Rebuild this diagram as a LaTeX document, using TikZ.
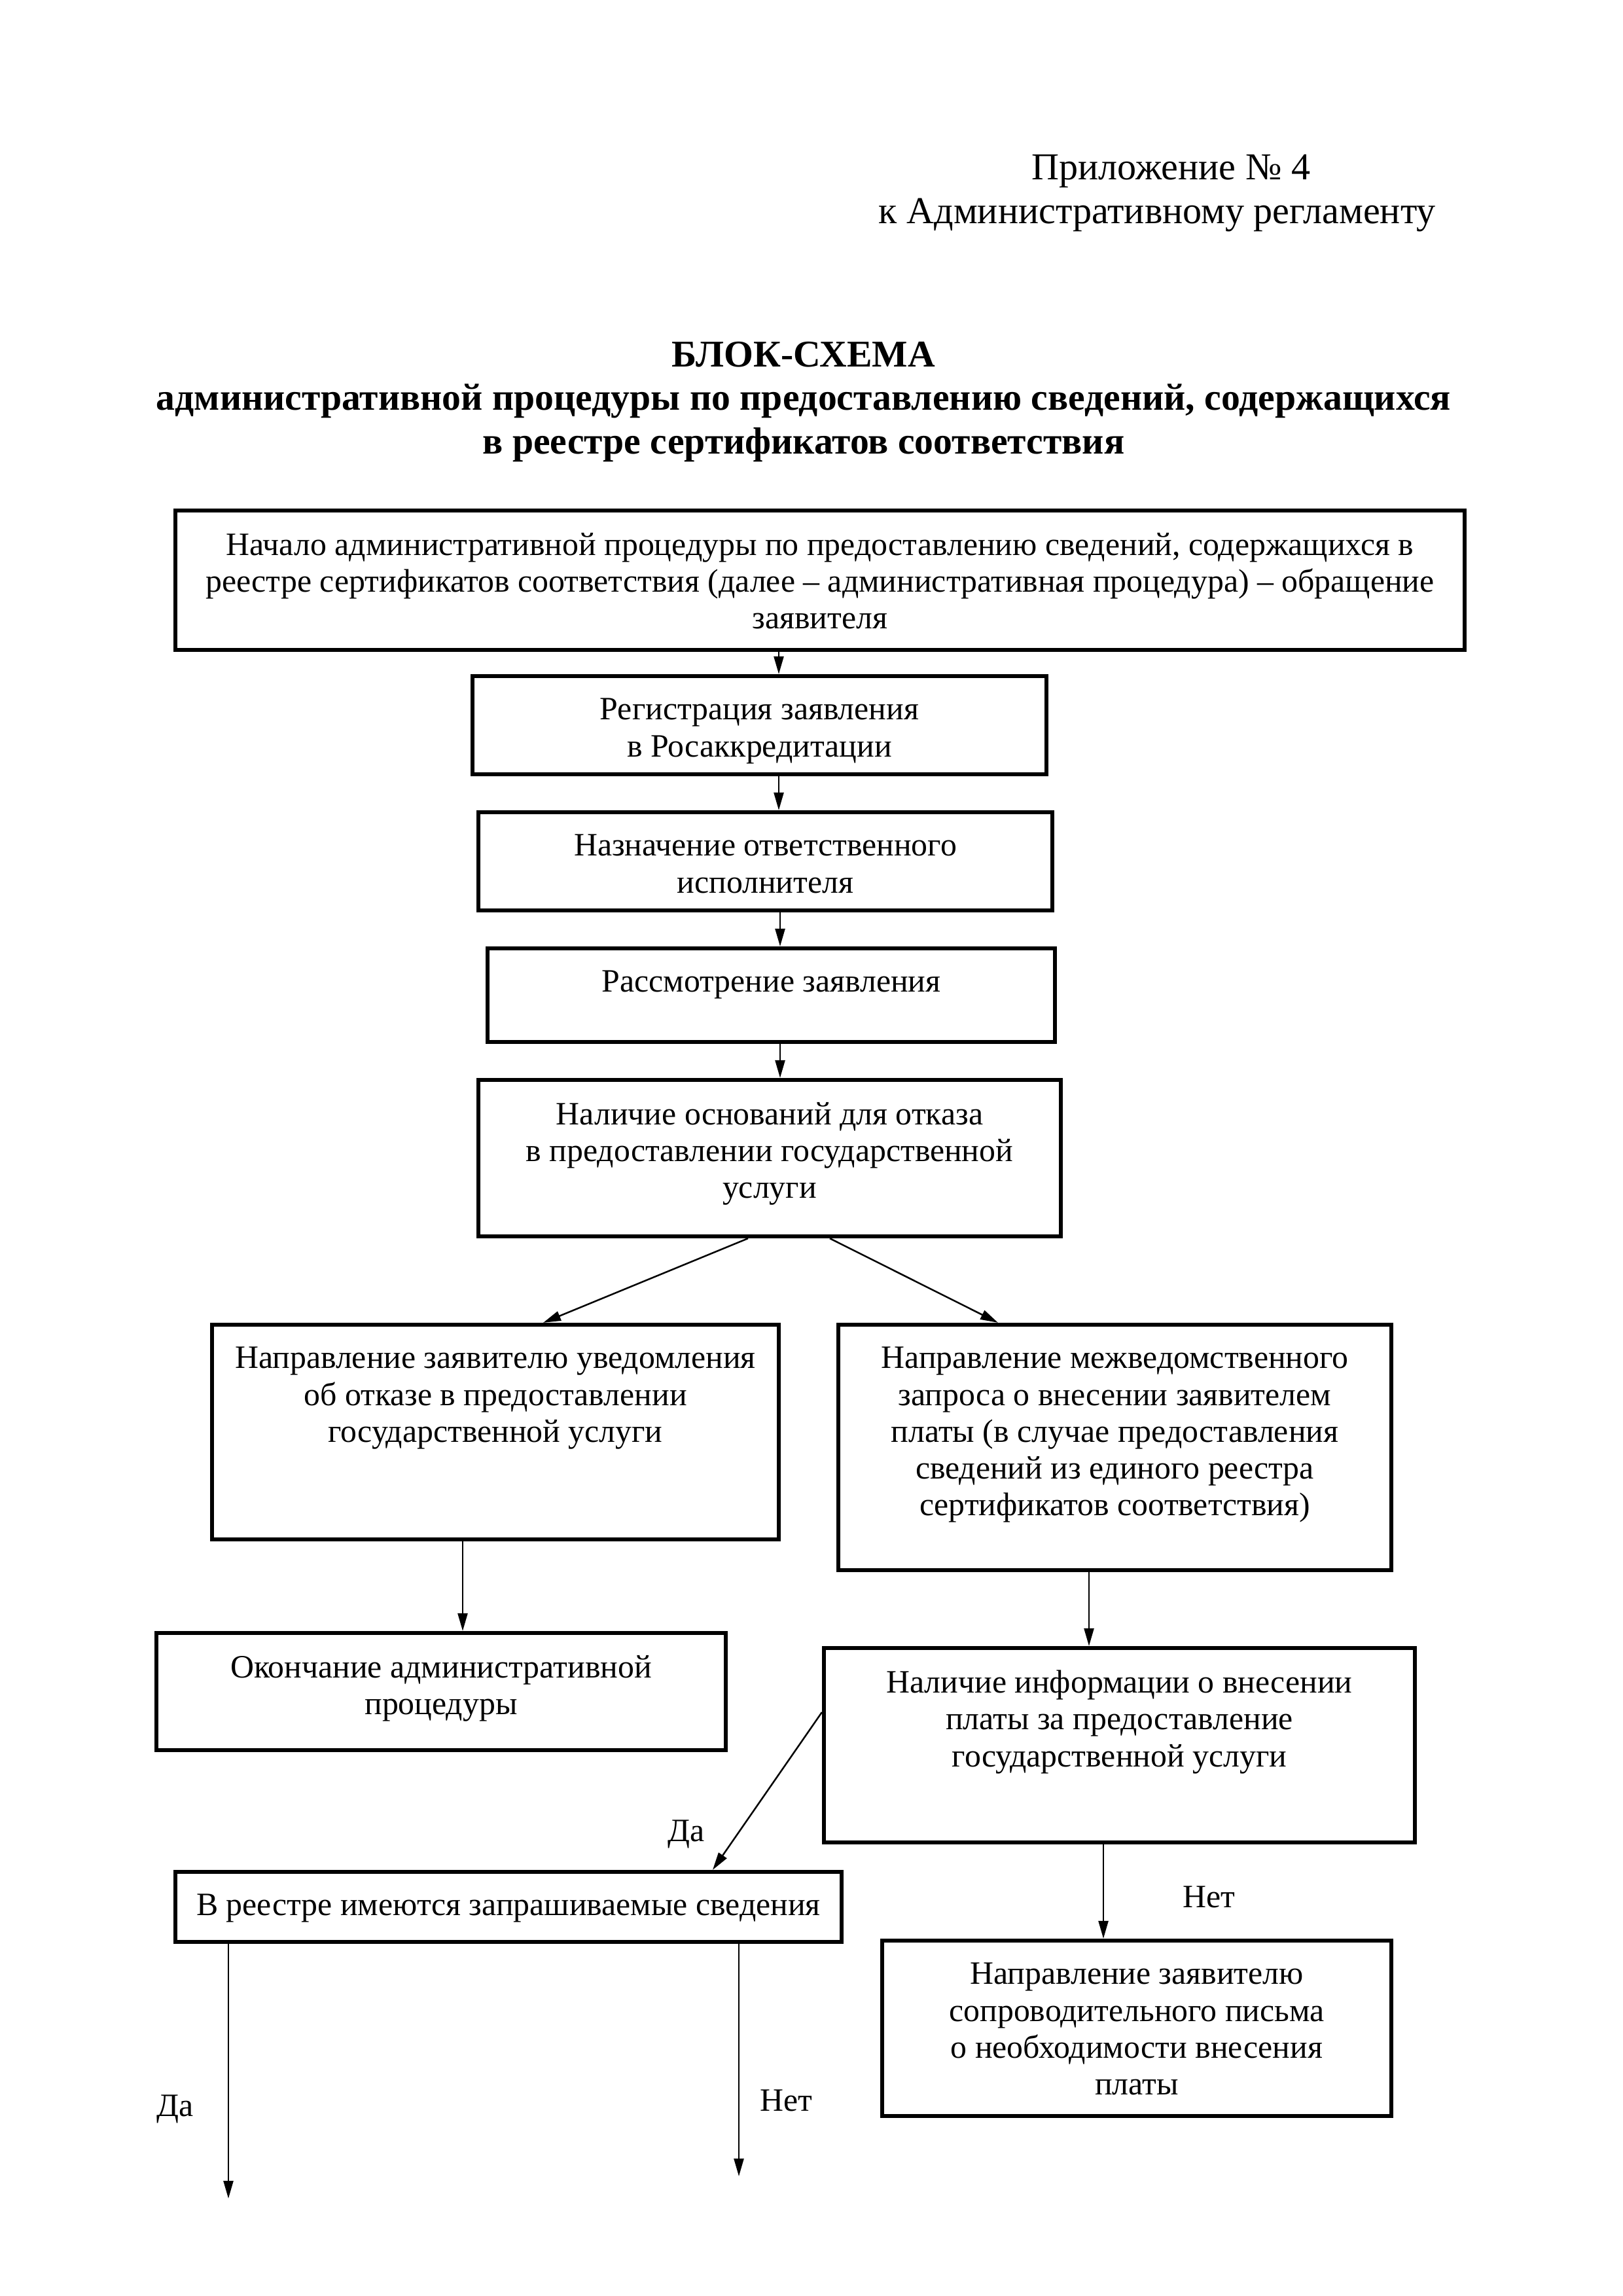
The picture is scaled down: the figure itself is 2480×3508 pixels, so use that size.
\documentclass[tikz,border=0pt]{standalone}
\usepackage{fontspec}
\setmainfont{Liberation Serif}
\usetikzlibrary{arrows.meta,fit}
\tikzset{
  box/.style={draw, line width=1.5pt, inner sep=0pt},
  txt/.style={anchor=north, align=center, inner sep=0pt, font=\fontsize{12}{13.5}\selectfont},
  lbl/.style={inner sep=0pt, font=\fontsize{12}{13.5}\selectfont},
  head/.style={inner sep=0pt, font=\fontsize{14}{16}\selectfont},
  ttl/.style={inner sep=0pt, align=center, font=\fontsize{13.9}{16.1}\selectfont\bfseries},
  arr/.style={line width=0.6pt, -{Triangle[length=6.5pt,width=3.6pt]}}
}
\begin{document}
\begin{tikzpicture}[x=0.08467mm, y=-0.08467mm]
\useasboundingbox (0,0) rectangle (2480,3508);
% header
\node[head, anchor=west] (h1) at (1576,262) {Приложение № 4};
\node[head, anchor=west] (h2) at (1342,329) {к Административному регламенту};
\node[ttl] (title) at (1228,614) {БЛОК-СХЕМА\\административной процедуры по предоставлению сведений, содержащихся\\в реестре сертификатов соответствия};
% boxes
\node[box, fit={(268,780)(2238,993)}] (b1) {};
\node[box, fit={(722,1033)(1599,1183)}] (b2) {};
\node[box, fit={(731,1241)(1608,1391)}] (b3) {};
\node[box, fit={(745,1449)(1612,1592)}] (b4) {};
\node[box, fit={(731,1650)(1621,1889)}] (b5) {};
\node[box, fit={(324,2024)(1190,2352)}] (b6) {};
\node[box, fit={(1281,2024)(2126,2399)}] (b7) {};
\node[box, fit={(239,2495)(1109,2674)}] (b8) {};
\node[box, fit={(1259,2518)(2162,2815)}] (b9) {};
\node[box, fit={(268,2860)(1286,2967)}] (b10) {};
\node[box, fit={(1348,2965)(2126,3233)}] (b11) {};
% texts
\node[txt] (t1) at ([yshift=-3.1mm]b1.north) {Начало административной процедуры по предоставлению сведений, содержащихся в\\реестре сертификатов соответствия (далее -- административная процедура) -- обращение\\заявителя};
\node[txt] (t2) at ([yshift=-3.1mm]b2.north) {Регистрация заявления\\в Росаккредитации};
\node[txt] (t3) at ([yshift=-3.1mm]b3.north) {Назначение ответственного\\исполнителя};
\node[txt] (t4) at ([yshift=-3.1mm]b4.north) {Рассмотрение заявления};
\node[txt] (t5) at ([yshift=-3.1mm]b5.north) {Наличие оснований для отказа\\в предоставлении государственной\\услуги};
\node[txt] (t6) at ([yshift=-3.1mm]b6.north) {Направление заявителю уведомления\\об отказе в предоставлении\\государственной услуги};
\node[txt] (t7) at ([yshift=-3.1mm]b7.north) {Направление межведомственного\\запроса о внесении заявителем\\платы (в случае предоставления\\сведений из единого реестра\\сертификатов соответствия)};
\node[txt] (t8) at ([yshift=-3.1mm]b8.north) {Окончание административной\\процедуры};
\node[txt] (t9) at ([yshift=-3.1mm]b9.north) {Наличие информации о внесении\\платы за предоставление\\государственной услуги};
\node[txt] (t10) at ([yshift=-3.1mm]b10.north) {В реестре имеются запрашиваемые сведения};
\node[txt] (t11) at ([yshift=-3.1mm]b11.north) {Направление заявителю\\сопроводительного письма\\о необходимости внесения\\платы};
% helper coordinates
\coordinate (xa) at (1190,0);
\coordinate (xb) at (1192,0);
\coordinate (xl1) at (1143,0);
\coordinate (xl2) at (830,0);
\coordinate (xr1) at (1268,0);
\coordinate (xr2) at (1525,0);
\coordinate (x68) at (707,0);
\coordinate (x79) at (1664,0);
\coordinate (x911) at (1686,0);
\coordinate (yd) at (0,2616);
\coordinate (xd) at (1089,0);
\coordinate (endDa) at (349,3359);
\coordinate (endNet) at (1129,3325);
% connectors
\draw[arr] (b1.south -| xa) -- (b2.north -| xa);
\draw[arr] (b2.south -| xa) -- (b3.north -| xa);
\draw[arr] (b3.south -| xb) -- (b4.north -| xb);
\draw[arr] (b4.south -| xb) -- (b5.north -| xb);
\draw[arr] (b5.south -| xl1) -- (b6.north -| xl2);
\draw[arr] (b5.south -| xr1) -- (b7.north -| xr2);
\draw[arr] (b6.south -| x68) -- (b8.north -| x68);
\draw[arr] (b7.south -| x79) -- (b9.north -| x79);
\draw[arr] (b9.west |- yd) -- (b10.north -| xd);
\draw[arr] (b9.south -| x911) -- (b11.north -| x911);
\draw[arr] (b10.south -| endDa) -- (endDa);
\draw[arr] (b10.south -| endNet) -- (endNet);
% labels
\node[lbl] (l1) at (1049,2802) {Да};
\node[lbl] (l2) at (1847,2898) {Нет};
\node[lbl] (l3) at (268,3222) {Да};
\node[lbl] (l4) at (1201,3209) {Нет};
\end{tikzpicture}
\end{document}
